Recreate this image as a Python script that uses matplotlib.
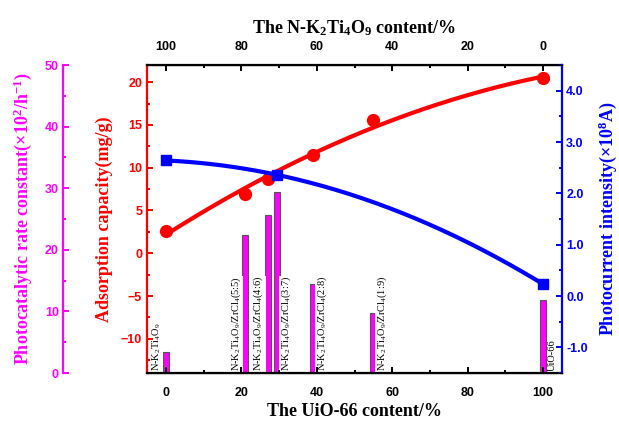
import numpy as np
import matplotlib
matplotlib.use("Agg")
import matplotlib.pyplot as plt
from matplotlib.ticker import MultipleLocator, FormatStrFormatter

plt.rcParams["mathtext.default"] = "regular"
# tick numbers: bold sans
plt.rcParams["font.family"] = "Liberation Sans"
plt.rcParams["font.weight"] = "bold"
plt.rcParams["xtick.labelsize"] = 9
plt.rcParams["ytick.labelsize"] = 9

# --- data ---
uio_content = [0, 21, 27, 29.5, 39, 55, 100]
rate_constant = [3.4, 22.4, 25.6, 29.4, 14.4, 9.7, 11.85]
sample_names = [
    "N-K$_2$Ti$_4$O$_9$",
    "N-K$_2$Ti$_4$O$_9$/ZrCl$_4$(5:5)",
    "N-K$_2$Ti$_4$O$_9$/ZrCl$_4$(4:6)",
    "N-K$_2$Ti$_4$O$_9$/ZrCl$_4$(3:7)",
    "N-K$_2$Ti$_4$O$_9$/ZrCl$_4$(2:8)",
    "N-K$_2$Ti$_4$O$_9$/ZrCl$_4$(1:9)",
    "UiO-66",
]
label_side = [-1, -1, -1, 1, 1, 1, 1]

ads_x = [0, 21, 27, 39, 55, 100]
ads_y = [2.65, 6.95, 8.67, 11.52, 15.55, 20.47]

pc_x = [0, 29.5, 100]
pc_y = [2.64, 2.36, 0.23]

MAGENTA = "#ff00ff"
RED = "#ff0000"
BLUE = "#0000ff"
SERIF = "Liberation Serif"

fig = plt.figure(figsize=(6.19, 4.21), dpi=100)
pos = [0.2375, 0.114, 0.6705, 0.7316]

# bars live on the lowest layer (magenta axis, offset to the left)
ax_mag = fig.add_axes(pos, zorder=0)
ax = fig.add_axes(pos, zorder=1)
ax.patch.set_visible(False)
ax_blue = ax.twinx()
ax_blue.set_zorder(2)
ax_top = ax.twiny()
ax_top.set_zorder(3)

xlim = (-5, 105)

# photocatalytic rate constant bars
ax_mag.bar(uio_content, rate_constant, width=1.6, color=MAGENTA,
           edgecolor="#555555", linewidth=0.8)
for x, name, side in zip(uio_content, sample_names, label_side):
    ax_mag.text(x + side * 2.4, 0.3, name, rotation=90, ha="center", va="bottom",
                fontsize=7.5, family=SERIF, fontweight="normal",
                bbox=dict(facecolor="white", edgecolor="none", pad=0.3))
ax_mag.set_xlim(*xlim)
ax_mag.set_ylim(0, 50)
ax_mag.xaxis.set_visible(False)
for s in ["right", "top", "bottom"]:
    ax_mag.spines[s].set_visible(False)
ax_mag.spines["left"].set_position(("outward", 60.5))
ax_mag.spines["left"].set_color(MAGENTA)
ax_mag.spines["left"].set_linewidth(1.6)
ax_mag.yaxis.set_major_locator(MultipleLocator(10))
ax_mag.yaxis.set_minor_locator(MultipleLocator(5))
ax_mag.tick_params(axis="y", which="both", direction="in", colors=MAGENTA,
                   width=1.4, pad=3)
ax_mag.tick_params(axis="y", which="major", length=4.5)
ax_mag.tick_params(axis="y", which="minor", length=2.5)
ax_mag.set_ylabel("Photocatalytic rate constant(×10$^2$/h$^{-1}$)", color=MAGENTA,
                  fontsize=13, fontweight="bold", family=SERIF, labelpad=8)

# adsorption capacity, red, with quadratic trend
xs = np.linspace(0, 100, 200)
ads_fit = np.polyval(np.polyfit(ads_x, ads_y, 2), xs)
ax.plot(xs, ads_fit, color=RED, lw=3)
ax.plot(ads_x, ads_y, "o", color=RED, ms=8.5)
ax.set_xlim(*xlim)
ax.set_ylim(-14, 22)
ax.yaxis.set_major_locator(MultipleLocator(5))
ax.yaxis.set_minor_locator(MultipleLocator(2.5))
ax.xaxis.set_major_locator(MultipleLocator(20))
ax.xaxis.set_minor_locator(MultipleLocator(10))
ax.spines["left"].set_color(RED)
ax.spines["right"].set_visible(False)
for s in ["left", "bottom", "top"]:
    ax.spines[s].set_linewidth(1.6)
ax.tick_params(axis="y", which="both", direction="in", colors=RED, width=1.4, pad=3.5)
ax.tick_params(axis="x", which="both", direction="in", width=1.4, pad=10)
ax.tick_params(which="major", length=4.5)
ax.tick_params(which="minor", length=2.5)
ax.set_ylabel("Adsorption capacity(mg/g)", color=RED, fontsize=13,
              fontweight="bold", family=SERIF, labelpad=6)
ax.set_xlabel("The UiO-66 content/%", fontsize=13, fontweight="bold",
              family=SERIF, labelpad=3)

# photocurrent intensity, blue
pc_fit = np.polyval(np.polyfit(pc_x, pc_y, 2), xs)
ax_blue.plot(xs, pc_fit, color=BLUE, lw=3)
ax_blue.plot(pc_x, pc_y, "s", color=BLUE, ms=7.5)
ax_blue.set_ylim(-1.5, 4.5)
ax_blue.yaxis.set_major_locator(MultipleLocator(1))
ax_blue.yaxis.set_minor_locator(MultipleLocator(0.5))
ax_blue.yaxis.set_major_formatter(FormatStrFormatter("%.1f"))
ax_blue.spines["right"].set_color(BLUE)
ax_blue.spines["right"].set_linewidth(1.6)
ax_blue.spines["left"].set_visible(False)
ax_blue.tick_params(axis="y", which="both", direction="in", colors=BLUE, width=1.4, pad=3)
ax_blue.tick_params(which="major", length=4.5)
ax_blue.tick_params(which="minor", length=2.5)
ax_blue.set_ylabel("Photocurrent intensity(×10$^8$A)", color=BLUE, fontsize=13,
                   fontweight="bold", family=SERIF, labelpad=6)

# top axis: N-K2Ti4O9 content runs opposite to the UiO-66 content
ax_top.set_xlim(100 - xlim[0], 100 - xlim[1])
ax_top.xaxis.set_major_locator(MultipleLocator(20))
ax_top.xaxis.set_minor_locator(MultipleLocator(10))
ax_top.spines["left"].set_visible(False)
ax_top.spines["right"].set_visible(False)
ax_top.tick_params(axis="x", which="both", direction="in", width=1.4, pad=9)
ax_top.tick_params(which="major", length=4.5)
ax_top.tick_params(which="minor", length=2.5)
ax_top.set_xlabel("The N-K$_2$Ti$_4$O$_9$ content/%", fontsize=13,
                  fontweight="bold", family=SERIF, labelpad=5)

fig.savefig("out.png", dpi=100)
